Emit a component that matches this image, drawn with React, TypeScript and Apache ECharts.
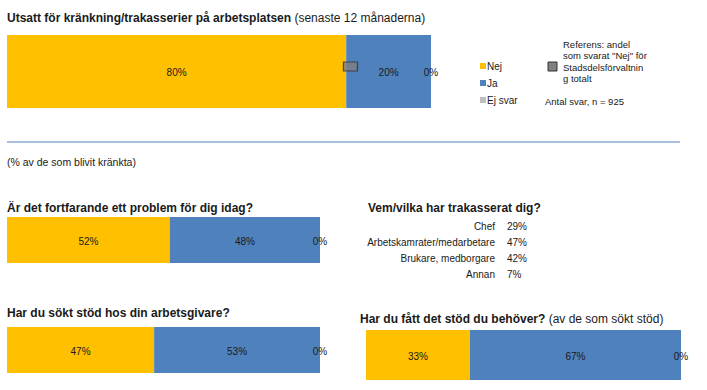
import React, { useEffect, useRef } from "react";
import * as echarts from "echarts";

const seriesNames = ["Nej", "Ja", "Ej svar"];
const colors = ["#FFC000", "#4F81BD", "#BFBFBF"];

const mainNej = [80];
const mainJa = [20];
const mainEj = [0];
const referenceNej = [81];

const problemNej = [52];
const problemJa = [48];
const problemEj = [0];

const supportSoughtNej = [47];
const supportSoughtJa = [53];
const supportSoughtEj = [0];

const supportGotNej = [33];
const supportGotJa = [67];
const supportGotEj = [0];

const whoCategories = ["Chef", "Arbetskamrater/medarbetare", "Brukare, medborgare", "Annan"];
const whoValues = [29, 47, 42, 7];

const FONT = "'Liberation Sans', Arial, sans-serif";
const TXT = "#1a1a1a";

export default function App() {
  const ref = useRef<HTMLDivElement>(null);
  useEffect(() => {
    if (!ref.current) return;
    const chart = echarts.init(ref.current, null, { renderer: "svg" });

    const grids = [
      { left: 7, top: 35, width: 424, height: 73 },
      { left: 7, top: 217, width: 313, height: 46 },
      { left: 7, top: 327, width: 313, height: 46 },
      { left: 366, top: 330, width: 315, height: 50 },
    ];
    const groups = [
      [mainNej, mainJa, mainEj],
      [problemNej, problemJa, problemEj],
      [supportSoughtNej, supportSoughtJa, supportSoughtEj],
      [supportGotNej, supportGotJa, supportGotEj],
    ];

    const xAxis = grids.map((_, i) => ({
      type: "value",
      gridIndex: i,
      min: 0,
      max: 100,
      show: false,
    }));
    const yAxis = grids.map((_, i) => ({
      type: "category",
      gridIndex: i,
      data: ["a"],
      show: false,
    }));

    const series: any[] = [];
    groups.forEach((grp, gi) => {
      grp.forEach((vals, si) => {
        series.push({
          name: seriesNames[si],
          type: "bar",
          stack: "s" + gi,
          xAxisIndex: gi,
          yAxisIndex: gi,
          data: vals,
          barWidth: "100%",
          itemStyle: { color: colors[si] },
          label: {
            show: true,
            position: "inside",
            formatter: "{c}%",
            color: TXT,
            fontSize: 10,
            fontFamily: FONT,
            offset: [0, 1],
          },
          silent: true,
        });
      });
    });
    series.push({
      type: "scatter",
      xAxisIndex: 0,
      yAxisIndex: 0,
      data: referenceNej.map((v) => [v, 0]),
      symbol: "rect",
      symbolSize: [14, 9],
      symbolOffset: [0, -5],
      itemStyle: { color: "#808080", borderColor: "#333333", borderWidth: 1 },
      z: 5,
    });

    const txt = (x: number, y: number, text: string, extra: any = {}) => ({
      type: "text",
      x,
      y,
      style: {
        text,
        fill: TXT,
        font: `10px ${FONT}`,
        textVerticalAlign: "middle",
        ...extra,
      },
    });

    const graphic: any[] = [
      {
        type: "text",
        x: 7,
        y: 18,
        style: {
          text: "{b|Utsatt för kränkning/trakasserier på arbetsplatsen} {n|(senaste 12 månaderna)}",
          rich: {
            b: { fontSize: 12, fontWeight: "bold", fontFamily: FONT, fill: TXT },
            n: { fontSize: 12, fontFamily: FONT, fill: TXT },
          },
          textVerticalAlign: "middle",
        },
      },
      // legend
      ...seriesNames.flatMap((n, i) => [
        { type: "rect", shape: { x: 480, y: 63 + i * 17, width: 6, height: 6 }, style: { fill: colors[i] } },
        txt(487, 66.5 + i * 17, n),
      ]),
      { type: "rect", shape: { x: 548, y: 62, width: 9, height: 9 }, style: { fill: "#808080", stroke: "#333333", lineWidth: 1 } },
      txt(563, 44, "Referens: andel", { font: `9.5px ${FONT}` }),
      txt(563, 55.5, 'som svarat "Nej" för', { font: `9.5px ${FONT}` }),
      txt(563, 67, "Stadsdelsförvaltnin", { font: `9.5px ${FONT}` }),
      txt(563, 78.5, "g totalt", { font: `9.5px ${FONT}` }),
      txt(545, 101, "Antal svar, n = 925", { font: `9.5px ${FONT}` }),
      {
        type: "line",
        shape: { x1: 7, y1: 142, x2: 680, y2: 142 },
        style: { stroke: "#4F81BD", lineWidth: 1 },
      },
      txt(7, 162, "(% av de som blivit kränkta)", { font: `10.5px ${FONT}` }),
      txt(7, 208, "Är det fortfarande ett problem för dig idag?", { font: `bold 12px ${FONT}` }),
      txt(368, 208, "Vem/vilka har trakasserat dig?", { font: `bold 12px ${FONT}` }),
      ...whoCategories.flatMap((c, i) => [
        txt(495, 226 + i * 16, c, { font: `10px ${FONT}`, textAlign: "right" }),
        txt(507, 226 + i * 16, whoValues[i] + "%", { font: `10px ${FONT}` }),
      ]),
      txt(7, 313, "Har du sökt stöd hos din arbetsgivare?", { font: `bold 12px ${FONT}` }),
      {
        type: "text",
        x: 360,
        y: 319,
        style: {
          text: "{b|Har du fått det stöd du behöver?} {n|(av de som sökt stöd)}",
          rich: {
            b: { fontSize: 12, fontWeight: "bold", fontFamily: FONT, fill: TXT },
            n: { fontSize: 12, fontFamily: FONT, fill: TXT },
          },
          textVerticalAlign: "middle",
        },
      },
    ];

    chart.setOption({
      animation: false,
      backgroundColor: "#ffffff",
      grid: grids,
      xAxis,
      yAxis,
      series,
      graphic,
    });
    return () => chart.dispose();
  }, []);
  return (
    <div
      ref={ref}
      style={{ position: "fixed", left: 0, top: 0, width: 707, height: 390 }}
    />
  );
}
